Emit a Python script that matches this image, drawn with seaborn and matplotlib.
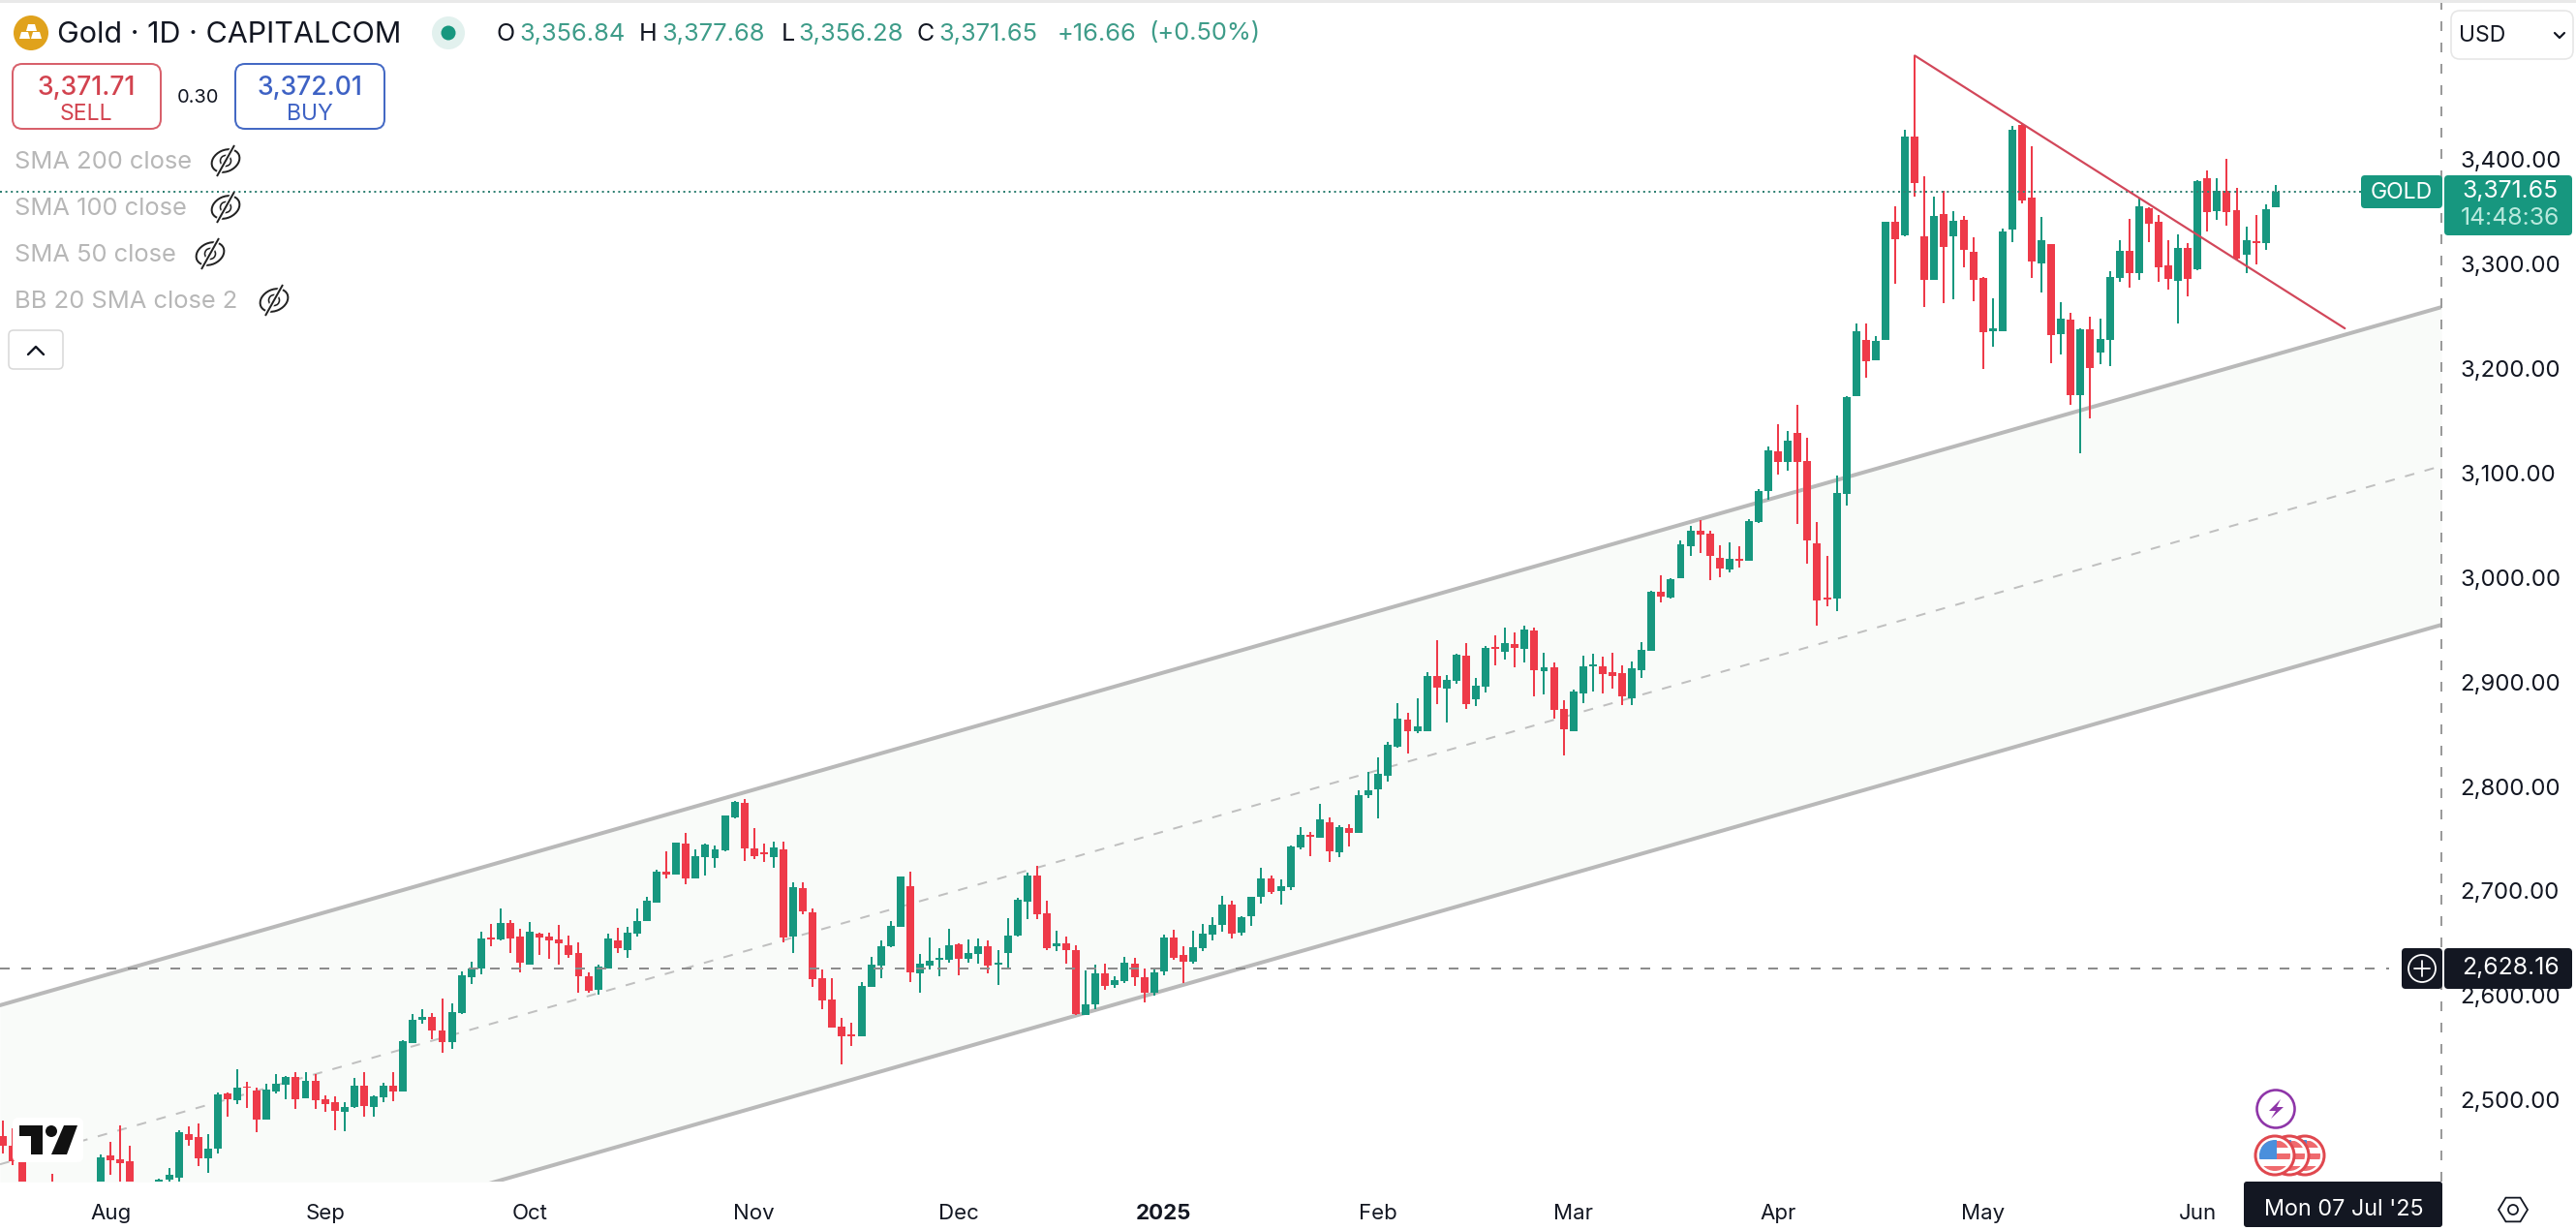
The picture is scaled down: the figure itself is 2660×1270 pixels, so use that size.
import numpy as np
import pandas as pd
import matplotlib
matplotlib.use("Agg")
import matplotlib.pyplot as plt
from matplotlib.patches import Rectangle, FancyBboxPatch, Circle, Ellipse, Polygon
import seaborn as sns

nan = np.nan
opens = [
 2467.5,2458.2,2444.0,nan,nan,2420,nan,nan,nan,nan,
 2415,2449,2445.3,2443.4,nan,nan,2415,2426.1,2428.3,2470,
 2466.6,2446.8,2456.1,2508.3,2502,2515.4,2511.7,2483.9,2510.1,2516.9,
 2524,2504,2520.6,2502.7,2499.9,2491.3,2495.3,2515.7,2495.9,2505.2,
 2515.7,2510.7,2557.1,2578.7,2581.8,2568.8,2558,2585.5,2619.8,2628.2,
 2657.5,2655.9,2671.4,2658.7,2632.2,2661.2,2658.4,2655.9,2650.4,2642.7,
 2620.7,2608.1,2628.2,2654.7,2646.1,2661.5,2673.9,2691.5,2720.8,2718.4,
 2747.4,2714.6,2735,2733.8,2741.2,2772.7,2786.6,2742.8,2739.4,2734.7,
 2741.8,2659,2704.8,2681.9,2618.9,2598.2,2572.2,2565.1,2563.6,2610.9,
 2631.2,2649.8,2668.3,2706.9,2623.8,2630.9,2636.5,2636.5,2651.3,2637.4,
 2642,2649.5,2631.9,2643,2659.7,2692.4,2717.1,2680.7,2649.8,2651.9,
 2645.8,2584,2593.6,2623.5,2612.1,2615.8,2632.5,2620.1,2605,2625.1,
 2657.8,2641.1,2634.9,2647.6,2660.6,2669.9,2689.3,2662.8,2678.2,2697,
 2714.3,2702.6,2706.3,2744,2756,2753.3,2767.8,2739.4,2762.5,2757.9,
 2794,2799.6,2812.6,2840,2866.3,2855.2,2855.2,2908,2896,2903.1,
 2927.5,2885.8,2897.8,2935.8,2931.5,2938.6,2934,2951.6,2913,2916.4,
 2876.5,2855.5,2891.3,2917.3,2917.3,2911.7,2910.5,2887,2913.9,2932.4,
 2988.7,2983.4,3001.8,3032.5,3047,3044.6,3021.1,3010.3,3020.5,3018,
 3055.1,3085.3,3123,3113.1,3140.3,3113.7,3035,2983.4,2982.5,3082.2,
 3175.5,3229.3,3210.4,3229.9,3342.7,3330,3424.2,3328.8,3287.4,3349.8,
 3328.8,3344.5,3313.9,3288.9,3238.2,3238.2,3335.6,3435.6,3365.8,3303.1,
 3321.3,3235.5,3249,3177,3239.8,3217.9,3229.9,3289.2,3314.5,3293.8,
 3355.6,3342.3,3300.9,3286.4,3317.6,3297.2,3384.3,3353.2,3372,3353.8,
 3311.5,3324.1,3322.6,3356.84]
closes = [
 2458.2,2444,2410,nan,nan,2410,nan,nan,nan,nan,
 2447.4,2445,2442.2,2415,nan,nan,2426.1,2430.4,2471.5,2464.4,
 2446.8,2456.1,2507.7,2503,2513.8,2513.8,2483.9,2512,2517.5,2524,
 2503,2520.6,2502,2498.4,2492.2,2495.3,2515.7,2496.8,2505.5,2515.7,
 2510.7,2558.3,2578.7,2581.8,2568.8,2558,2586.1,2621.3,2628.2,2656.9,
 2655.9,2671.4,2656.9,2633.7,2663,2658.1,2655.3,2652.5,2641.1,2621,
 2606.5,2629.7,2656.9,2647.6,2662.1,2673.6,2693,2720.8,2718.4,2748.6,
 2714.6,2735.6,2746.5,2741.8,2774.6,2787.9,2743.4,2735.3,2737.8,2743.7,
 2657.5,2706,2682.5,2618.3,2597.9,2572,2563.6,2563.6,2611.5,2631.5,
 2649.5,2668.9,2716.2,2624.8,2632.5,2635.6,2638,2650.4,2637.7,2642.7,
 2649.5,2631.2,2633.4,2659.7,2694.3,2717.1,2680,2647.3,2651.9,2645.8,
 2584.3,2594.2,2623.5,2611.8,2617,2633.7,2620.1,2605,2624.5,2657.8,
 2638.3,2634.9,2648.2,2661.5,2669.9,2689.3,2661.5,2677,2696.7,2714.3,
 2701,2706.9,2744.9,2755.7,2754.2,2770.9,2740.6,2763.4,2757.9,2794,
 2798.4,2814.4,2842.2,2867.2,2855.5,2859.8,2908,2896.9,2904,2928.4,
 2881.5,2898.8,2934.6,2934,2939.5,2934.9,2952.5,2913.9,2916,2875.9,
 2857.4,2893.2,2917,2919.1,2909.9,2908.3,2888.9,2915.1,2933,2988.7,
 2984,3000.4,3034.1,3047,3043.3,3022.9,3011.2,3019.8,3018.3,3056.6,
 3085.3,3123.9,3113.1,3133.2,3113.1,3038.1,2980.6,2981.5,3082.9,3174.9,
 3237.6,3209.5,3228.7,3342.7,3326.3,3424.2,3380,3287.4,3348.2,3318.9,
 3343.6,3315.8,3287.4,3237.3,3240.4,3333.1,3430.7,3363.4,3305,3324.7,
 3234.5,3249.7,3177,3239.8,3202.7,3230.2,3289.5,3314.5,3293.8,3357.5,
 3341.1,3299.4,3288,3317.6,3288,3381.9,3351.9,3372,3351.9,3307.8,
 3324.7,3322,3354.4,3371.65]
highs = [
 2482.9,2475.2,2444.6,nan,nan,2431.4,nan,nan,nan,nan,
 2450.5,2462,2478,2458.2,nan,nan,2427.3,2437.2,2473.7,2476.8,
 2479.9,2469.7,2509.2,2509.2,2531.7,2519.4,2513.8,2517.5,2527.1,2525.6,
 2528.7,2528.7,2526.8,2507,2505.5,2499.9,2523.1,2528.7,2507,2518.5,
 2528.7,2559.2,2584.9,2588.9,2585.8,2599.7,2594.8,2625,2634.3,2663.6,
 2670.8,2685.3,2674.5,2665.8,2672.3,2662.7,2662.1,2669.8,2659.6,2652.9,
 2624.4,2631.9,2661.5,2666.7,2668.3,2685.3,2696.7,2722.4,2740.3,2748.6,
 2757.9,2742.4,2747.7,2745.5,2774.9,2788.8,2790,2762.5,2747.7,2749.2,
 2749.2,2710.6,2710.6,2685.3,2627.2,2618.9,2580.9,2576.3,2615.2,2639,
 2655,2673.3,2716.2,2720.5,2642,2657.8,2647.9,2666.1,2652.6,2656,
 2656.9,2654.7,2645.8,2676,2696.1,2720.2,2726,2693,2664,2658.4,
 2650.7,2626.6,2631.9,2632.8,2621,2639,2638,2628.2,2627.5,2660.6,
 2665.2,2649.8,2664.3,2670.5,2677.6,2697.6,2693,2678.2,2697,2724.5,
 2716.8,2713.1,2745.5,2763.1,2758.8,2785.7,2772.7,2765,2766.2,2798.7,
 2816.6,2829.9,2845,2882.1,2872.8,2886.7,2911.4,2942.3,2908.6,2929.3,
 2939.5,2906.2,2936.4,2946.9,2954,2949.4,2956.2,2954,2930.3,2920.7,
 2884.5,2894.7,2927.2,2929,2926.2,2930,2917.9,2921.6,2940.1,2989.6,
 3004.4,3001.3,3037.5,3051.4,3057.6,3046.7,3032.8,3035.9,3032.2,3058.5,
 3086.6,3127.6,3149,3142.5,3167.2,3136,3055,3022.6,3099.5,3175.5,
 3245.3,3245.3,3233,3342.7,3357.8,3430.7,3501.7,3385.9,3366.7,3372,
 3352.8,3348.5,3327.8,3289.8,3269.1,3336.5,3434.4,3436.9,3414.9,3347.3,
 3321.3,3265.7,3255.8,3240.4,3251.5,3249.7,3295.4,3324.7,3345.4,3364.9,
 3356.6,3349.4,3324.7,3330.3,3322.3,3382.5,3391.8,3384.3,3402.9,3375.1,
 3337.7,3349.1,3359.6,3377.68]
lows = [
 2451.4,2440.3,2400,nan,nan,2400,nan,nan,nan,nan,
 2405,2430.4,2415,2405,nan,nan,2405,2424,2424,2459,
 2438.8,2432.9,2451.4,2486,2498.4,2494.4,2471.2,2483.9,2508.3,2503,
 2493.8,2504,2493.8,2490.7,2473.7,2472.1,2494.4,2486,2486,2500.5,
 2501.5,2510.7,2557.1,2575.6,2560.8,2547.2,2551.5,2584.9,2613.6,2622.9,
 2649.8,2655.3,2643,2624.4,2632.2,2641.4,2637.4,2632.2,2638,2605,
 2605,2603.4,2628.2,2643,2638.3,2659,2673.9,2691.5,2714.6,2718.4,
 2709.1,2714.6,2717.1,2724.5,2740,2771.5,2731.3,2733.2,2730.1,2724.5,
 2652.9,2643,2680,2610.9,2589.5,2572,2536.4,2554,2563.6,2610.9,
 2618.9,2648.5,2668.3,2615.2,2605,2627.5,2620.7,2633.7,2622,2633.7,
 2632.8,2623.8,2612.7,2628.2,2658.4,2675.4,2675.4,2646.1,2644.5,2632.8,
 2583.4,2584,2589.5,2608,2609.6,2614.3,2611.8,2595.7,2601.9,2622,
 2636.8,2614.3,2632.8,2645.1,2655.3,2663.7,2656.9,2660,2669.2,2690.5,
 2699.2,2689.3,2703.5,2742.4,2735.6,2753.3,2730.1,2734.7,2744.9,2757.9,
 2791.3,2771.8,2807.3,2839.4,2834.2,2853,2855.2,2881.5,2863.5,2900.6,
 2876.8,2879,2892.3,2918.5,2923.8,2916.4,2921,2888.2,2890.7,2867.2,
 2832,2855.5,2882.4,2893.2,2891.6,2896.3,2880.5,2880.5,2906.2,2932.4,
 2978.8,2982.5,3001.2,3023.3,3026,3000,3002.5,3007.5,3012.1,3018,
 3054.4,3076.7,3100.8,3104.5,3053.8,3015.8,2956.2,2975,2970.4,3071.4,
 3175.5,3193.5,3210.4,3229.9,3283.6,3328.8,3367,3260.8,3287.4,3265.1,
 3268.2,3299.1,3267,3202.1,3222.8,3238.2,3323.2,3360.3,3289.2,3275.3,
 3207.7,3216,3167.8,3120.8,3154.8,3206.4,3204.9,3285.5,3279.9,3287.4,
 3323.2,3285.5,3277.5,3245.3,3271.6,3296,3333.4,3344.2,3339.2,3306.2,
 3293.8,3302.2,3315.8,3356.28]

price_ticks = [3400, 3300, 3200, 3100, 3000, 2900, 2800, 2700, 2600, 2500]
month_labels = ["Aug", "Sep", "Oct", "Nov", "Dec", "2025", "Feb", "Mar", "Apr", "May", "Jun"]
month_bars = [11, 33, 54, 77, 98, 119, 141, 161, 182, 203, 225]
channel_bars = [-0.33, 250.0]
channel_upper = [2593.0, 3261.0]
channel_mid = [2440.8, 3109.0]
channel_lower = [2288.5, 2957.0]
trend_bars = [196.0, 240.1]
trend_prices = [3501.7, 3240.7]
last_close = 3371.65
cross_price = 2628.16

GREEN = "#17977f"
RED = "#ee3a49"
GREY = "#b9b9b9"
DARK = "#131722"

sns.set_theme(style="white")
plt.rcParams["font.family"] = ["Inter", "DejaVu Sans"]
plt.rcParams["axes.unicode_minus"] = False

W, H = 2660, 1270
fig = plt.figure(figsize=(W / 100, H / 100), dpi=100, facecolor="white")
ax = fig.add_axes([0, 50 / H, 2521 / W, 1220 / H])
ax.set_facecolor("white")
ax.set_xlim(-0.33, 250.0)
ax.set_ylim(2424.3, 3554.9)
PX = 0.72

df = pd.DataFrame({"o": opens, "h": highs, "l": lows, "c": closes})
df["bar"] = df.index
df = df.dropna()
df["col"] = np.where(df["c"] >= df["o"], GREEN, RED)

# channel
ax.fill_between(channel_bars, channel_lower, channel_upper, color="#f9fbf9", lw=0, zorder=1)
sns.lineplot(x=channel_bars, y=channel_upper, color=GREY, linewidth=4 * PX, ax=ax, zorder=2, estimator=None)
sns.lineplot(x=channel_bars, y=channel_lower, color=GREY, linewidth=4 * PX, ax=ax, zorder=2, estimator=None)
sns.lineplot(x=channel_bars, y=channel_mid, color="#c0c0c0", linewidth=2 * PX, ax=ax, zorder=2, estimator=None,
             linestyle=(0, (5, 5.5)))

# candles
ax.vlines(df["bar"], df["l"], df["h"], colors=df["col"], linewidth=2 * PX, zorder=3)
ax.bar(df["bar"], (df["c"] - df["o"]).abs(), bottom=df[["o", "c"]].min(axis=1), width=0.79,
       color=df["col"], linewidth=0, zorder=4)

# trend line, price lines
sns.lineplot(x=trend_bars, y=trend_prices, color="#d2475a", linewidth=2.2 * PX, ax=ax, zorder=6, estimator=None)
ax.axhline(last_close, color="#2f8072", lw=2 * PX, ls=(0, (1, 1.8)), zorder=5)
ax.plot([-0.33, 244.6], [cross_price, cross_price], color="#8c8c8c", lw=2 * PX, ls=(0, (5, 6)), zorder=5)
ax.plot([250, 250], [2424.3, 3554.9], color="#9a9a9a", lw=2 * PX, ls=(0, (5, 6)), zorder=7, clip_on=False)

# axes
for s in ax.spines.values():
    s.set_visible(False)
ax.yaxis.tick_right()
ax.set_yticks(price_ticks)
ax.set_yticklabels([f"{v:,.2f}" for v in price_ticks])
ax.set_xticks(month_bars)
ax.set_xticklabels(month_labels)
ax.tick_params(axis="y", length=0, pad=14.2, labelsize=17.3, labelcolor="#131722")
ax.tick_params(axis="x", length=0, pad=16.5, labelsize=16, labelcolor="#131722")
ax.set_xlabel("")
ax.set_ylabel("")
for lab in ax.get_yticklabels():
    lab.set_verticalalignment("center")
for lab in ax.get_xticklabels():
    if lab.get_text() == "2025":
        lab.set_fontweight("bold")

# interface layer in pixel space
ov = fig.add_axes([0, 0, 1, 1], zorder=10)
ov.set_xlim(0, W)
ov.set_ylim(H, 0)
ov.axis("off")
ov.patch.set_alpha(0)


def t(x, y, s, size, color="#131722", ha="left", weight="normal"):
    ov.text(x, y + 2, s, fontsize=size * PX, color=color, ha=ha, va="center", fontweight=weight, zorder=20)


def box(x0, y0, x1, y1, fc, ec="none", lw=0, r=4, z=3):
    ov.add_patch(FancyBboxPatch((x0 + r, y0 + r), x1 - x0 - 2 * r, y1 - y0 - 2 * r,
                                boxstyle=f"round,pad={r},rounding_size={r}", fc=fc, ec=ec, lw=lw * PX, zorder=z))


ov.add_patch(Rectangle((0, 0), W, 2.5, fc="#e9e9e9", lw=0))

# symbol header
ov.add_patch(Circle((32, 34), 18, fc="#e0a21c", lw=0))
for pts in [[(27, 32), (29, 25), (36, 25), (38, 32)], [(20, 40), (22, 33), (29, 33), (31, 40)], [(32, 40), (34, 33), (41, 33), (43, 40)]]:
    ov.add_patch(Polygon(pts, fc="white", lw=0))
t(59, 34, "Gold · 1D · CAPITALCOM", 30.5)
ov.add_patch(Circle((463, 34), 17, fc="#e2f1ee", lw=0))
ov.add_patch(Circle((463, 34), 7.5, fc=GREEN, lw=0))
OHLC = "#3e9c89"
for lx, label, vx, val in [(513, "O", 536, "3,356.84"), (660, "H", 683, "3,377.68"), (807, "L", 824, "3,356.28"), (946, "C", 969, "3,371.65")]:
    t(lx, 33, label, 25)
    t(vx, 33, val, 25.5, OHLC)
t(1092, 33, "+16.66", 25.5, OHLC)
t(1186, 33, "(+0.50%)", 25.5, OHLC)

# sell / buy
box(13, 66, 166, 133, "white", "#d8606b", 2, r=10)
box(243, 66, 397, 133, "white", "#4469c4", 2, r=10)
t(89, 89, "3,371.71", 26.5, "#d2434f", "center", "medium")
t(89, 116, "SELL", 23, "#d2434f", "center")
t(205, 99, "0.30", 20, "#131722", "center")
t(320, 89, "3,372.01", 26.5, "#3e62c4", "center", "medium")
t(320, 116, "BUY", 23, "#3e62c4", "center")

# hidden indicators
for y, label, ix in [(166, "SMA 200 close", 233), (214, "SMA 100 close", 233), (262, "SMA 50 close", 217), (310, "BB 20 SMA close 2", 283)]:
    t(15, y, label, 25.5, "#b7b7b7")
    cy = y
    ov.add_patch(Ellipse((ix, cy), 30, 22, angle=-25, fc="none", ec="#222222", lw=2 * PX, zorder=4))
    ov.add_patch(Circle((ix, cy), 5.5, fc="none", ec="#222222", lw=1.6 * PX, zorder=4))
    ov.plot([ix - 9, ix + 9], [cy + 16, cy - 16], color="white", lw=5 * PX, solid_capstyle="butt", zorder=5)
    ov.plot([ix - 9, ix + 9], [cy + 16, cy - 16], color="#222222", lw=2 * PX, solid_capstyle="butt", zorder=6)
box(9, 341, 65, 381, "white", "#d9d9d9", 1.6, r=5)
ov.plot([29, 37, 45], [366, 358, 366], color="#131722", lw=2.4 * PX, solid_capstyle="round", zorder=5)

# logo
box(13, 1154, 86, 1200, "white", r=6, z=1)
ov.add_patch(Polygon([(20, 1162), (44, 1162), (44, 1192), (32, 1192), (32, 1173), (20, 1173)], fc="#111111", lw=0, zorder=2))
ov.add_patch(Circle((53, 1168), 6, fc="#111111", lw=0, zorder=2))
ov.add_patch(Polygon([(66, 1162), (80, 1162), (69, 1192), (53, 1192)], fc="#111111", lw=0, zorder=2))

# currency selector
box(2531, 11, 2657, 61, "white", "#e6e6e6", 1.6, r=9)
t(2539, 35, "USD", 23)
ov.plot([2638, 2643, 2648], [34, 39, 34], color="#131722", lw=2.2 * PX, zorder=5)

# last price labels
box(2438, 181, 2522, 215, GREEN, r=4)
t(2480, 197, "GOLD", 23, "#ffffff", "center")
box(2524, 181, 2656, 243, GREEN, r=4)
t(2592, 196, "3,371.65", 24.8, "#ffffff", "center")
t(2592, 224, "14:48:36", 24.8, "#b9e9dd", "center")

# cross-hair labels
box(2480, 979, 2522, 1021, DARK, r=4)
ov.add_patch(Circle((2501, 1000), 14, fc="none", ec="white", lw=1.8 * PX, zorder=4))
ov.plot([2493, 2509], [1000, 1000], color="white", lw=1.8 * PX, zorder=4)
ov.plot([2501, 2501], [992, 1008], color="white", lw=1.8 * PX, zorder=4)
box(2524, 979, 2656, 1021, DARK, r=4)
t(2592, 998, "2,628.16", 24.8, "#ffffff", "center")
box(2317, 1220, 2522, 1267, DARK, r=3)
t(2420, 1247, "Mon 07 Jul '25", 23.4, "#ffffff", "center")

# settings
hx = 2595 + 15 * np.cos(np.arange(6) * np.pi / 3)
hy = 1249 + 15 * np.sin(np.arange(6) * np.pi / 3) * 0.95
ov.add_patch(Polygon(np.c_[hx, hy], fc="none", ec="#131722", lw=1.8 * PX))
ov.add_patch(Circle((2595, 1249), 5, fc="none", ec="#131722", lw=1.8 * PX))

# event markers
ov.add_patch(Circle((2350, 1145), 19.5, fc="white", ec="#8e35a8", lw=2.6 * PX))
ov.add_patch(Polygon([(2355, 1135), (2343, 1147), (2350, 1147), (2345, 1155), (2358, 1143), (2351, 1143)], fc="#8e35a8", lw=0))
for i, cx in enumerate([2380, 2364, 2349]):
    z = 5 + i * 3
    clip = Circle((cx, 1193), 16, transform=ov.transData)
    ov.add_patch(Circle((cx, 1193), 20, fc="white", ec="#e0484f", lw=3 * PX, zorder=z))
    for y0, h0 in [(1178, 7), (1191, 6), (1204, 8)]:
        r = Rectangle((cx - 20, y0), 40, h0, fc="#ef6a6e", lw=0, zorder=z + 1)
        ov.add_patch(r)
        r.set_clip_path(clip)
    c = Rectangle((cx - 17, 1176), 19, 21, fc="#4a8fdc", lw=0, zorder=z + 2)
    ov.add_patch(c)
    c.set_clip_path(clip)

fig.savefig("out.png", dpi=100, facecolor="white")
